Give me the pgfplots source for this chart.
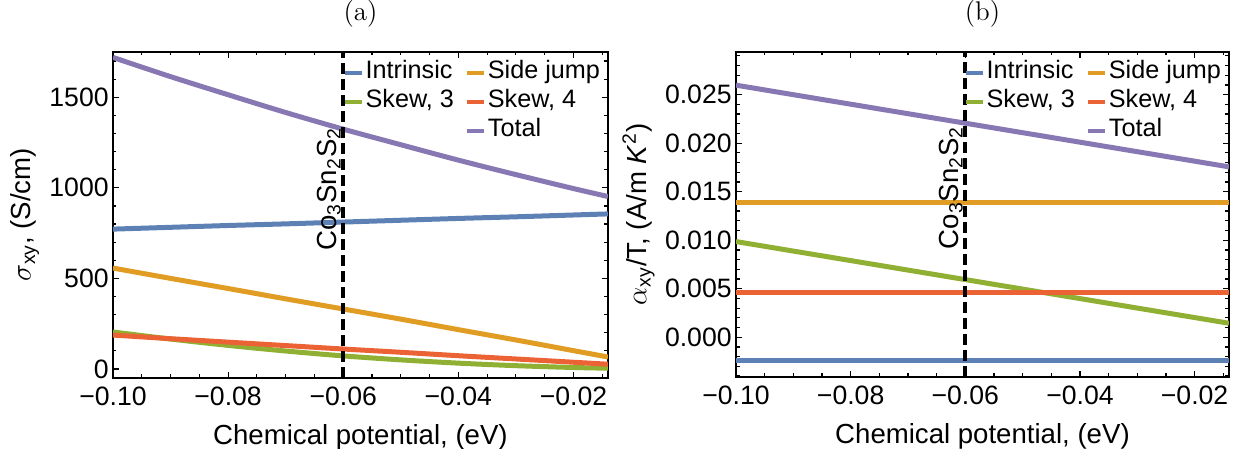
\documentclass[border=0pt]{standalone}
\usepackage{fontspec}
\setmainfont{Liberation Sans}
\usepackage{pgfplots}
\pgfplotsset{compat=1.18}

\definecolor{mBlue}{rgb}{0.368417,0.506779,0.709798}
\definecolor{mOrange}{rgb}{0.880722,0.611041,0.142051}
\definecolor{mGreen}{rgb}{0.560181,0.691569,0.194885}
\definecolor{mRed}{rgb}{0.922526,0.385626,0.209179}
\definecolor{mPurple}{rgb}{0.528488,0.470624,0.701351}

\newcommand\lmtitle{\fontfamily{lmr}\fontsize{13.5}{16}\selectfont}
\newcommand\labfont{\fontsize{13.8}{16}\selectfont}
\newcommand\legfont{\fontsize{12.6}{14}\selectfont}

\pgfplotsset{
  mframe/.style={
    scale only axis,
    xmin=-0.1, xmax=-0.014,
    xtick={-0.1,-0.08,-0.06,-0.04,-0.02},
    xticklabels={−0.10,−0.08,−0.06,−0.04,−0.02},
    minor xtick={-0.095,-0.09,-0.085,-0.075,-0.07,-0.065,-0.055,-0.05,-0.045,-0.035,-0.03,-0.025,-0.015},
    scaled ticks=false,
    tick align=inside,
    major tick length=3pt, minor tick length=1.75pt,
    every tick/.style={black, line width=0.6pt},
    axis line style={line width=0.8pt},
    yticklabel style={inner xsep=2pt},
    xlabel={Chemical potential, (eV)},
    label style={font=\labfont},
    ylabel style={inner sep=1pt},
    ylabel shift=2pt,
    title style={font=\lmtitle, yshift=1.5pt},
    every axis plot/.append style={line width=2.5pt},
    legend columns=2,
    legend cell align=left,
    legend style={draw=none, fill=none, inner sep=0pt, outer sep=0pt,
      at={(1,1)}, anchor=north east, xshift=-3pt, yshift=-3.5pt,
      font=\legfont, column sep=0pt, row sep=0pt,
      nodes={inner xsep=1pt, inner ysep=0pt, text height=10pt, text depth=4.5pt}},
    /tikz/every even column/.append style={column sep=4.5pt},
    legend image code/.code={\draw[line width=2pt] (0pt,0pt) -- (8.5pt,0pt);},
  }
}

\begin{document}
\fontsize{13.3}{15}\selectfont
\begin{tikzpicture}
\useasboundingbox (0,0) rectangle (619.5pt,224.5pt);

% (a) Hall conductivity
\begin{axis}[mframe, at={(56.5pt,35.5pt)}, anchor=south west,
  width=247.5pt, height=163pt,
  ymin=-50, ymax=1750,
  ytick={0,500,1000,1500}, yticklabels={0,500,1000,1500},
  minor ytick={100,200,300,400,600,700,800,900,1100,1200,1300,1400,1600,1700},
  ylabel={$\sigma$\textsubscript{xy}, (S/cm)},
  title={(a)}]
\addplot[mBlue, smooth] coordinates {
  (-0.100,772) (-0.090,782) (-0.080,792) (-0.070,801) (-0.060,811)
  (-0.050,821) (-0.040,831) (-0.030,840) (-0.020,850) (-0.014,856)};
\addlegendentry{Intrinsic}
\addplot[mOrange, smooth] coordinates {
  (-0.100,557) (-0.090,500) (-0.080,444) (-0.070,387) (-0.060,331)
  (-0.050,275) (-0.040,217) (-0.030,160) (-0.020,101) (-0.014,66)};
\addlegendentry{Side jump}
\addplot[mGreen, smooth] coordinates {
  (-0.100,204) (-0.090,165) (-0.080,130) (-0.070,99) (-0.060,72)
  (-0.050,50) (-0.040,32) (-0.030,18) (-0.020,8) (-0.014,4)};
\addlegendentry{Skew, 3}
\addplot[mRed, smooth] coordinates {
  (-0.100,187) (-0.090,167) (-0.080,148) (-0.070,129) (-0.060,110)
  (-0.050,92) (-0.040,73) (-0.030,55) (-0.020,37) (-0.014,26)};
\addlegendentry{Skew, 4}
\addlegendimage{empty legend}
\addlegendentry{}
\addplot[mPurple, smooth] coordinates {
  (-0.100,1720) (-0.090,1614) (-0.080,1514) (-0.070,1416) (-0.060,1324)
  (-0.050,1238) (-0.040,1153) (-0.030,1073) (-0.020,996) (-0.014,952)};
\addlegendentry{Total}
\addplot[black, line width=2pt, dash pattern=on 5.5pt off 2.5pt, forget plot]
  coordinates {(-0.06,-50) (-0.06,1750)};
\node[rotate=90, anchor=south, inner sep=1pt, font=\labfont]
  at (axis cs:-0.06,993) {Co\textsubscript{3}Sn\textsubscript{2}S\textsubscript{2}};
\end{axis}

% (b) anomalous Nernst coefficient
\begin{axis}[mframe, at={(368pt,36pt)}, anchor=south west,
  width=246.5pt, height=162.5pt,
  ymin=-0.0041, ymax=0.0294,
  ytick={0,0.005,0.01,0.015,0.02,0.025},
  yticklabels={0.000,0.005,0.010,0.015,0.020,0.025},
  minor ytick={-0.004,-0.003,-0.002,-0.001,0.001,0.002,0.003,0.004,0.006,0.007,0.008,0.009,0.011,0.012,0.013,0.014,0.016,0.017,0.018,0.019,0.021,0.022,0.023,0.024,0.026,0.027,0.028,0.029},
  ylabel={$\alpha$\textsubscript{xy}/T, (A/m \textit{K}\textsuperscript{2})},
  title={(b)}]
\addplot[mBlue] coordinates {(-0.100,-0.00236) (-0.014,-0.00236)};
\addlegendentry{Intrinsic}
\addplot[mOrange] coordinates {(-0.100,0.01386) (-0.014,0.01386)};
\addlegendentry{Side jump}
\addplot[mGreen] coordinates {(-0.100,0.00986) (-0.060,0.00594) (-0.014,0.00144)};
\addlegendentry{Skew, 3}
\addplot[mRed] coordinates {(-0.100,0.00462) (-0.014,0.00462)};
\addlegendentry{Skew, 4}
\addlegendimage{empty legend}
\addlegendentry{}
\addplot[mPurple] coordinates {(-0.100,0.02598) (-0.060,0.02206) (-0.014,0.01756)};
\addlegendentry{Total}
\addplot[black, line width=2pt, dash pattern=on 5.5pt off 2.5pt, forget plot]
  coordinates {(-0.06,-0.0041) (-0.06,0.0294)};
\node[rotate=90, anchor=south, inner sep=1pt, font=\labfont]
  at (axis cs:-0.06,0.0154) {Co\textsubscript{3}Sn\textsubscript{2}S\textsubscript{2}};
\end{axis}
\end{tikzpicture}
\end{document}
